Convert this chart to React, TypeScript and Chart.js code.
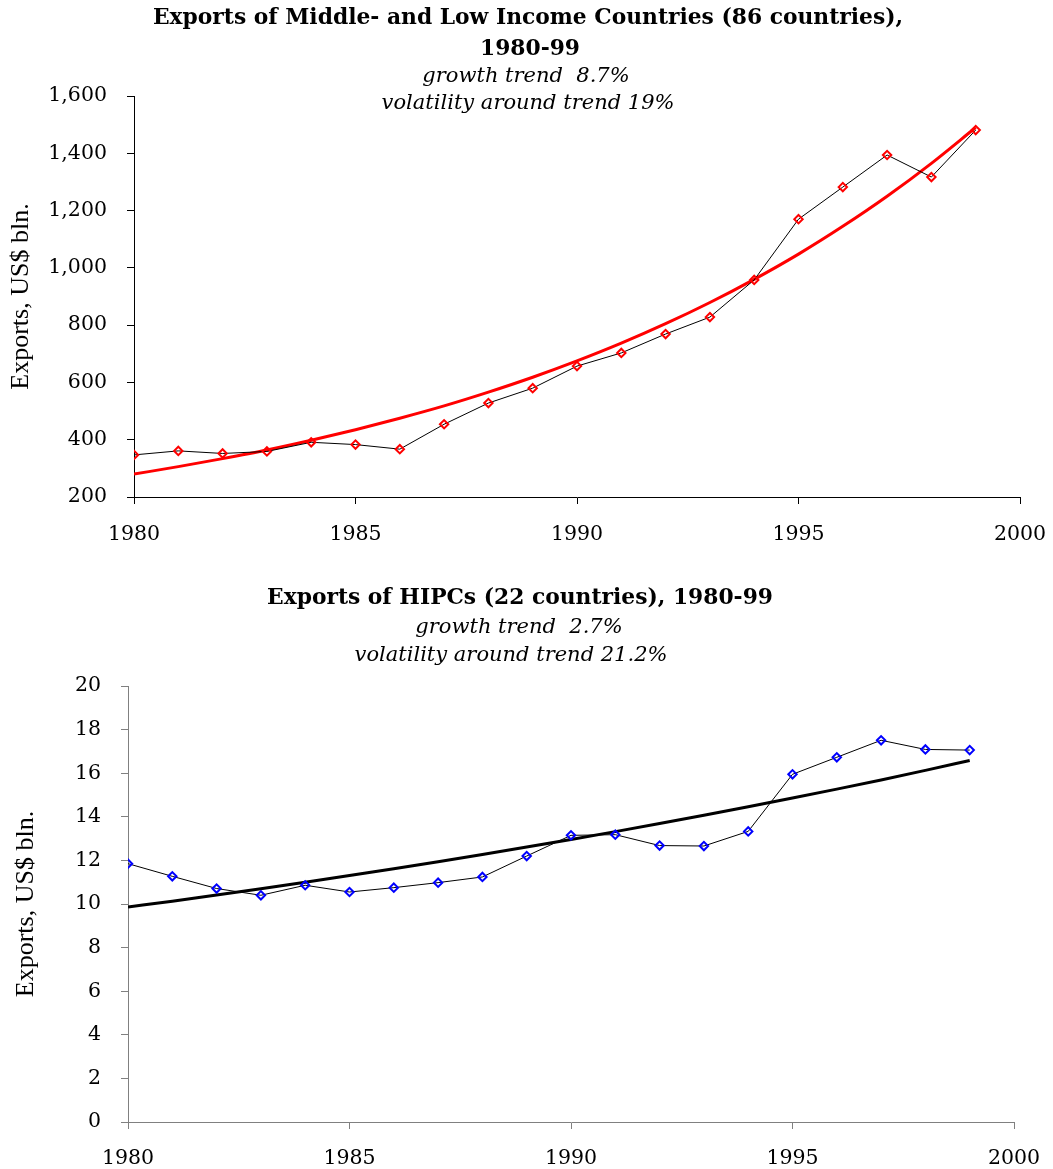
import React, { useEffect, useRef } from 'react';
import { Chart, registerables } from 'chart.js';

Chart.register(...registerables);

const years = [1980, 1981, 1982, 1983, 1984, 1985, 1986, 1987, 1988, 1989, 1990, 1991, 1992, 1993, 1994, 1995, 1996, 1997, 1998, 1999];

const mlicExports = [347, 361, 352, 359, 391, 383, 367, 454, 528, 580, 657, 703, 769, 828, 958, 1170, 1282, 1394, 1317, 1481];
const mlicTrend = [280, 306, 334, 364, 398, 435, 475, 518, 566, 618, 675, 737, 805, 879, 960, 1048, 1145, 1250, 1365, 1490];

const hipcExports = [11.85, 11.27, 10.71, 10.4, 10.86, 10.55, 10.75, 10.98, 11.24, 12.2, 13.15, 13.18, 12.68, 12.66, 13.33, 15.95, 16.73, 17.51, 17.09, 17.06];
const hipcTrend = [9.86, 10.13, 10.41, 10.7, 11.0, 11.31, 11.62, 11.94, 12.27, 12.61, 12.96, 13.32, 13.69, 14.07, 14.46, 14.86, 15.27, 15.69, 16.13, 16.58];

const xTicks = [1980, 1985, 1990, 1995, 2000];
const mlicYTicks = [200, 400, 600, 800, 1000, 1200, 1400, 1600];
const hipcYTicks = [0, 2, 4, 6, 8, 10, 12, 14, 16, 18, 20];

const mlicTitle = 'Exports of Middle- and Low Income Countries (86 countries),';
const mlicTitle2 = '1980-99';
const mlicSub1 = 'growth trend  8.7%';
const mlicSub2 = 'volatility around trend 19%';
const hipcTitle = 'Exports of HIPCs (22 countries), 1980-99';
const hipcSub1 = 'growth trend  2.7%';
const hipcSub2 = 'volatility around trend 21.2%';
const yTitle = 'Exports, US$ bln.';

const TITLE_FONT = 'bold 21.8px "DejaVu Serif"';
const SUB_FONT = 'italic 21px "DejaVu Serif"';
const TICK_FONT = { family: '"DejaVu Serif"', size: 20.5 };

const textPlugin = {
  id: 'textLines',
  afterDraw(chart: any, _args: any, opts: any) {
    const ctx = chart.ctx;
    ctx.save();
    ctx.fillStyle = '#000';
    ctx.textAlign = 'center';
    ctx.textBaseline = 'middle';
    for (const l of opts.lines || []) {
      ctx.font = l.font;
      ctx.fillText(l.text, l.x, l.y);
    }
    ctx.restore();
  },
};

function pts(vals: number[]) {
  return vals.map((v, i) => ({ x: years[i], y: v }));
}

function makeConfig(opts: any) {
  const {
    data, trend, markerColor, trendColor, yTicks, yMin, yMax, axisColor,
    padding, yWidth, xHeight, yTitlePad, xPad, lines,
  } = opts;
  return {
    type: 'line',
    data: {
      datasets: [
        {
          label: 'Exports',
          data: pts(data),
          borderColor: '#000',
          borderWidth: 1,
          pointStyle: 'rectRot',
          pointRadius: 4.2,
          pointBorderWidth: 2,
          pointBorderColor: markerColor,
          pointBackgroundColor: 'rgba(255,255,255,0)',
          tension: 0,
        },
        {
          label: 'Trend',
          data: pts(trend),
          borderColor: trendColor,
          borderWidth: 3,
          pointRadius: 0,
          cubicInterpolationMode: 'monotone',
        },
      ],
    },
    options: {
      animation: false,
      responsive: false,
      layout: { padding },
      plugins: {
        legend: { display: false },
        tooltip: { enabled: false },
        title: { display: false },
        textLines: { lines },
      },
      scales: {
        x: {
          type: 'linear',
          min: 1980,
          max: 2000,
          afterBuildTicks: (s: any) => { s.ticks = xTicks.map((v) => ({ value: v })); },
          afterFit: (s: any) => {
            s.height = xHeight;
            s.paddingLeft = 0;
            s.paddingRight = 0;
          },
          ticks: {
            callback: (v: any) => String(v),
            font: TICK_FONT,
            color: '#000',
            padding: xPad,
            maxRotation: 0,
            autoSkip: false,
          },
          grid: { drawOnChartArea: false, drawTicks: true, tickLength: 7, color: axisColor, lineWidth: 1 },
          border: { color: axisColor, width: 1 },
        },
        y: {
          type: 'linear',
          min: yMin,
          max: yMax,
          afterBuildTicks: (s: any) => { s.ticks = yTicks.map((v: number) => ({ value: v })); },
          afterFit: (s: any) => {
            s.width = yWidth;
            s.paddingTop = 0;
            s.paddingBottom = 0;
          },
          ticks: {
            callback: (v: any) => Number(v).toLocaleString('en-US'),
            font: TICK_FONT,
            color: '#000',
            padding: 20,
            autoSkip: false,
          },
          grid: { drawOnChartArea: false, drawTicks: true, tickLength: 7, color: axisColor, lineWidth: 1 },
          border: { color: axisColor, width: 1 },
          title: {
            display: true,
            text: yTitle,
            color: '#000',
            font: { family: '"Liberation Serif"', size: 26 },
            padding: { top: yTitlePad, bottom: 0 },
          },
        },
      },
    },
    plugins: [textPlugin],
  };
}

function ChartCanvas({ config, width, height, top }: any) {
  const ref = useRef<HTMLCanvasElement>(null);
  useEffect(() => {
    if (!ref.current) return;
    const chart = new Chart(ref.current, config);
    return () => chart.destroy();
  }, []);
  return (
    <canvas
      ref={ref}
      width={width}
      height={height}
      style={{ position: 'absolute', left: 0, top, width, height }}
    />
  );
}

export default function App() {
  const cfg1 = makeConfig({
    data: mlicExports,
    trend: mlicTrend,
    markerColor: '#ff0000',
    trendColor: '#ff0000',
    yTicks: mlicYTicks,
    yMin: 200,
    yMax: 1600,
    axisColor: '#000',
    padding: { top: 96, left: 0, right: 33, bottom: 8 },
    yWidth: 134,
    xHeight: 55,
    yTitlePad: 6,
    xPad: 18,
    lines: [
      { text: mlicTitle, font: TITLE_FONT, x: 528, y: 18 },
      { text: mlicTitle2, font: TITLE_FONT, x: 530, y: 49 },
      { text: mlicSub1, font: SUB_FONT, x: 526, y: 77 },
      { text: mlicSub2, font: SUB_FONT, x: 528, y: 104 },
    ],
  });
  const cfg2 = makeConfig({
    data: hipcExports,
    trend: hipcTrend,
    markerColor: '#0000ff',
    trendColor: '#000',
    yTicks: hipcYTicks,
    yMin: 0,
    yMax: 20,
    axisColor: '#808080',
    padding: { top: 126, left: 0, right: 39, bottom: 2 },
    yWidth: 128,
    xHeight: 45,
    yTitlePad: 11,
    xPad: 17,
    lines: [
      { text: hipcTitle, font: TITLE_FONT, x: 520, y: 38 },
      { text: hipcSub1, font: SUB_FONT, x: 519, y: 68 },
      { text: hipcSub2, font: SUB_FONT, x: 511, y: 96 },
    ],
  });
  return (
    <div style={{ position: 'absolute', left: 0, top: 0, width: 1053, height: 1169, background: '#fff' }}>
      <ChartCanvas config={cfg1} width={1053} height={560} top={0} />
      <ChartCanvas config={cfg2} width={1053} height={609} top={560} />
    </div>
  );
}
